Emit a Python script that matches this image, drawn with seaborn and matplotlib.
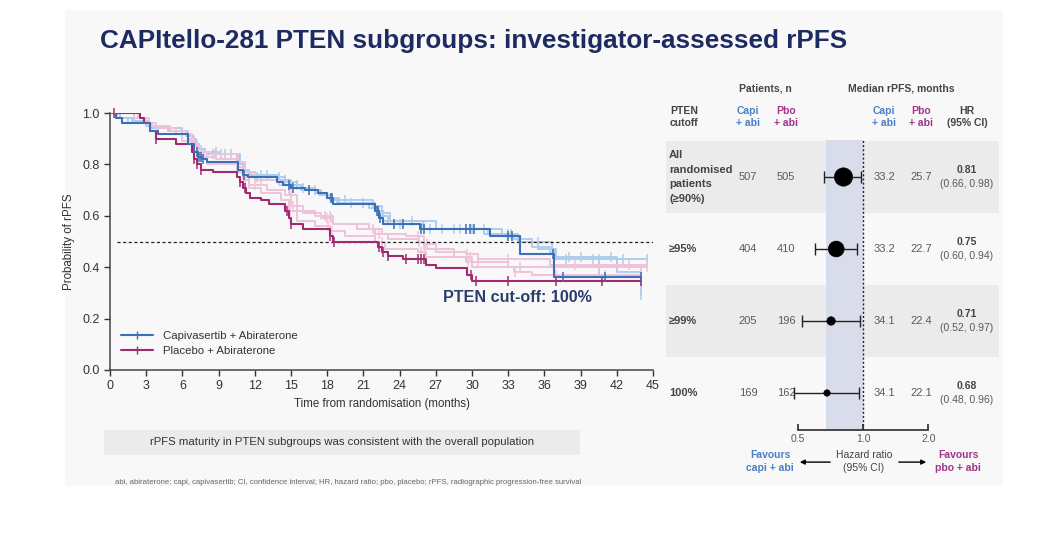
import numpy as np
import matplotlib
matplotlib.use('Agg')
import matplotlib.pyplot as plt
import seaborn as sns
from matplotlib.patches import Rectangle
from matplotlib.lines import Line2D

sns.set_theme(style='ticks')
NARROW = ['Liberation Sans Narrow', 'Liberation Sans', 'DejaVu Sans']
plt.rcParams['font.family'] = NARROW

# ---- KM data ----
# PTEN 100% subgroup (highlighted)
capi_t = [0, 0.5, 1.0, 3.3, 4.0, 6.5, 7.0, 7.3, 7.6, 8.0, 10.6, 11.0, 11.4, 13.8, 14.3, 15.0,
          16.2, 17.2, 18.0, 18.5, 22.0, 22.3, 22.6, 25.7, 31.5, 34.0, 36.8]
capi_s = [1.0, 0.98, 0.96, 0.93, 0.92, 0.88, 0.85, 0.83, 0.82, 0.81, 0.78, 0.76, 0.75, 0.73, 0.72, 0.71,
          0.70, 0.69, 0.67, 0.645, 0.62, 0.59, 0.57, 0.55, 0.52, 0.45, 0.36]
capi_cens = [7.2, 7.4, 7.5, 7.7, 11.1, 14.8, 15.2, 16.5, 18.3, 18.4, 22.1, 22.2, 22.4, 23.5, 24.3, 25.8,
             26.0, 29.5, 29.8, 30.2, 33.0, 33.3, 36.7, 37.5, 41.0, 44.0]

pbo_t = [0, 2.5, 2.8, 3.3, 3.8, 5.5, 6.8, 7.0, 7.2, 7.5, 8.5, 10.5, 10.8, 11.0, 11.3, 11.6, 12.5, 13.2,
         14.5, 14.8, 15.0, 16.0, 18.2, 18.5, 22.2, 22.5, 23.0, 24.3, 26.2, 27.0, 29.6, 30.0]
pbo_s = [1.0, 0.98, 0.96, 0.93, 0.90, 0.88, 0.85, 0.82, 0.80, 0.78, 0.77, 0.75, 0.73, 0.71, 0.69, 0.67, 0.66, 0.645,
         0.62, 0.59, 0.57, 0.55, 0.52, 0.50, 0.48, 0.46, 0.445, 0.43, 0.41, 0.395, 0.37, 0.345]
pbo_cens = [0.3, 3.8, 7.0, 7.2, 7.5, 10.8, 11.2, 14.7, 15.0, 18.2, 18.6, 22.3, 22.6, 23.0, 24.5, 25.5,
            25.8, 26.0, 29.9, 30.3, 33.0, 37.0, 40.8, 44.0]

# other PTEN subgroups (faded)
lb1_t = [0, 0.5, 1.5, 3.0, 4.5, 6.0, 6.8, 7.2, 7.6, 8.2, 10.5, 11.0, 11.5, 13.5, 14.5, 15.5, 17.0, 18.0, 19.0,
         21.5, 22.3, 23.0, 26.0, 31.0, 33.5, 35.0, 36.5, 37.0, 40.0]
lb1_s = [1.0, 0.98, 0.96, 0.95, 0.94, 0.92, 0.89, 0.86, 0.85, 0.84, 0.81, 0.78, 0.76, 0.75, 0.73, 0.71, 0.69, 0.67,
         0.65, 0.63, 0.60, 0.57, 0.55, 0.53, 0.51, 0.48, 0.46, 0.44, 0.43]
lb1_cens = [8.5, 9.5, 12.5, 14.0, 16.0, 20.0, 24.0, 27.5, 30.0, 33.0, 38.0, 40.5, 42.5, 44.5]
lb2_t = [0, 0.8, 2.0, 3.2, 5.0, 6.3, 7.0, 7.4, 7.9, 9.0, 10.8, 11.2, 12.0, 14.0, 15.0, 16.0, 17.5, 18.3,
         21.8, 22.5, 23.2, 27.0, 32.5, 34.0, 36.6, 37.0, 42.0]
lb2_s = [1.0, 0.98, 0.97, 0.95, 0.93, 0.91, 0.88, 0.86, 0.85, 0.84, 0.80, 0.77, 0.76, 0.74, 0.72, 0.70, 0.68, 0.66,
         0.64, 0.61, 0.58, 0.55, 0.52, 0.50, 0.47, 0.44, 0.38]
lb2_cens = [8.8, 10.0, 13.0, 15.5, 19.5, 25.0, 28.5, 31.0, 35.5, 39.0, 41.5, 44.0]
lb3_t = [0, 0.6, 1.8, 3.4, 4.8, 6.5, 7.1, 7.5, 8.0, 10.7, 11.1, 11.7, 13.8, 14.8, 15.8, 17.3, 18.2, 18.8,
         22.0, 22.6, 25.9, 31.3, 33.8, 35.5, 36.8, 40.5, 44.0]
lb3_s = [1.0, 0.98, 0.96, 0.94, 0.93, 0.90, 0.87, 0.85, 0.84, 0.80, 0.77, 0.75, 0.74, 0.72, 0.70, 0.68, 0.66, 0.65,
         0.62, 0.58, 0.55, 0.53, 0.50, 0.47, 0.43, 0.36, 0.29]
lb3_cens = [9.2, 12.2, 14.5, 17.0, 21.0, 26.5, 29.0, 33.2, 37.8, 40.0, 44.0]

lp1_t = [0, 2.3, 3.0, 3.8, 5.5, 6.8, 7.2, 7.8, 8.8, 10.5, 11.0, 11.5, 13.0, 14.5, 15.0, 16.0, 17.5, 18.5,
         20.5, 22.0, 23.0, 25.5, 26.0, 28.5, 30.0, 33.0]
lp1_s = [1.0, 0.98, 0.96, 0.94, 0.92, 0.88, 0.85, 0.83, 0.82, 0.79, 0.75, 0.72, 0.70, 0.68, 0.64, 0.61, 0.59, 0.57,
         0.55, 0.53, 0.51, 0.50, 0.47, 0.44, 0.42, 0.40]
lp1_cens = [8.0, 12.0, 15.2, 18.0, 18.3, 22.3, 25.6, 26.1, 29.8, 30.5, 34.0, 40.5, 44.5]
lp2_t = [0, 2.5, 3.2, 4.0, 6.0, 7.0, 7.5, 8.0, 10.5, 11.0, 11.5, 12.5, 14.2, 14.8, 15.5, 17.0, 18.2, 19.5,
         22.0, 22.8, 25.5, 26.2, 29.5, 30.0, 33.5, 35.0]
lp2_s = [1.0, 0.98, 0.95, 0.92, 0.89, 0.85, 0.82, 0.80, 0.77, 0.74, 0.71, 0.69, 0.66, 0.62, 0.58, 0.56, 0.54, 0.52,
         0.50, 0.47, 0.46, 0.44, 0.42, 0.40, 0.38, 0.37]
lp2_cens = [7.3, 11.2, 14.9, 18.1, 18.4, 22.5, 25.8, 29.7, 33.6, 37.0, 41.0, 44.0]
lp3_t = [0, 2.0, 2.8, 3.5, 5.0, 6.5, 7.0, 7.5, 8.3, 10.6, 11.2, 12.0, 14.0, 14.8, 15.5, 17.0, 18.5, 21.5,
         22.5, 24.5, 26.0, 27.0, 29.5, 30.5, 36.5]
lp3_s = [1.0, 0.98, 0.96, 0.95, 0.93, 0.90, 0.87, 0.85, 0.84, 0.81, 0.77, 0.74, 0.72, 0.68, 0.62, 0.60, 0.57, 0.55,
         0.53, 0.52, 0.49, 0.46, 0.45, 0.43, 0.41]
lp3_cens = [8.6, 12.5, 15.0, 17.8, 18.2, 21.8, 25.5, 26.3, 29.6, 33.0, 38.5, 43.0]

x_ticks = list(range(0, 46, 3))
y_ticks = [0.0, 0.2, 0.4, 0.6, 0.8, 1.0]

# ---- forest / table data ----
row_labels = ['All\nrandomised\npatients\n(\u226590%)', '\u226595%', '\u226599%', '100%']
n_capi = [507, 404, 205, 169]
n_pbo = [505, 410, 196, 162]
med_capi = ['33.2', '33.2', '34.1', '34.1']
med_pbo = ['25.7', '22.7', '22.4', '22.1']
hr = [0.81, 0.75, 0.71, 0.68]
hr_lo = [0.66, 0.60, 0.52, 0.48]
hr_hi = [0.98, 0.94, 0.97, 0.96]
band_lo = 0.67

BLUE = '#3b6fb6'
MAG = '#a2296f'
LBLUE = '#aecdee'
LPINK = '#efc3da'
NAVY = '#1e2b62'
GREY = '#5a5a5a'

fig = plt.figure(figsize=(10.48, 5.54), dpi=100)
fig.patch.set_facecolor('white')
W, H = 1048.0, 554.0


def fx(px):
    return px / W


def fy(py):
    return 1 - py / H


# slide background
fig.patches.append(Rectangle((fx(65), fy(486)), fx(1003) - fx(65), fy(10) - fy(486),
                             transform=fig.transFigure, facecolor='#f8f8f8', edgecolor='none', zorder=-10))

fig.text(fx(100), fy(41), 'CAPItello-281 PTEN subgroups: investigator-assessed rPFS',
         fontsize=18.8, fontweight='bold', color=NAVY, va='center', ha='left')

# ---- KM panel ----
ax = fig.add_axes([fx(110), fy(370), fx(653) - fx(110), fy(113) - fy(370)])
ax.set_facecolor('none')


def surv_at(t, s, times):
    idx = np.searchsorted(np.array(t), np.array(times), side='right') - 1
    return np.array(s)[idx]


def km(t, s, cens, t_end, color, lw, z):
    tt = list(t) + [t_end]
    ss = list(s) + [s[-1]]
    sns.lineplot(x=tt, y=ss, ax=ax, drawstyle='steps-post', color=color, lw=lw,
                 estimator=None, sort=False, zorder=z)
    sns.scatterplot(x=cens, y=surv_at(t, s, cens), ax=ax, marker='|', s=45, color=color,
                    linewidth=1.1, zorder=z, clip_on=False)


km(lb1_t, lb1_s, lb1_cens, 44.5, LBLUE, 1.4, 2)
km(lb2_t, lb2_s, lb2_cens, 44.0, LBLUE, 1.4, 2)
km(lb3_t, lb3_s, lb3_cens, 44.0, LBLUE, 1.4, 2)
km(lp1_t, lp1_s, lp1_cens, 44.5, LPINK, 1.4, 2)
km(lp2_t, lp2_s, lp2_cens, 44.0, LPINK, 1.4, 2)
km(lp3_t, lp3_s, lp3_cens, 44.5, LPINK, 1.4, 2)
km(pbo_t, pbo_s, pbo_cens, 44.0, MAG, 1.5, 4)
km(capi_t, capi_s, capi_cens, 44.0, BLUE, 1.5, 5)

ax.hlines(0.5, 0.6, 45, colors='#222222', linestyles=(0, (2.5, 2)), lw=0.9, zorder=3)
ax.set_xlim(0, 45)
ax.set_ylim(0, 1.0)
ax.set_xticks(x_ticks)
ax.set_yticks(y_ticks)
ax.set_yticklabels([f'{v:.1f}' for v in y_ticks])
ax.tick_params(labelsize=9, colors='#333333', length=4, width=1)
sns.despine(ax=ax)
for sp in ('left', 'bottom'):
    ax.spines[sp].set_color('#444444')
    ax.spines[sp].set_linewidth(1.1)
ax.set_xlabel('Time from randomisation (months)', fontsize=8.3, color='#333333', labelpad=4)
ax.set_ylabel('Probability of rPFS', fontsize=8.3, color='#333333', labelpad=5)
ax.text(33.8, 0.284, 'PTEN cut-off: 100%', fontsize=11.6, fontweight='bold', color='#2a3d6c',
        ha='center', va='center')
handles = [Line2D([], [], color=BLUE, marker='|', lw=1.5, ms=6),
           Line2D([], [], color=MAG, marker='|', lw=1.5, ms=6)]
ax.legend(handles, ['Capivasertib + Abiraterone', 'Placebo + Abiraterone'], loc='lower left',
          bbox_to_anchor=(0.012, 0.035), frameon=False, fontsize=8.2, handlelength=2.8,
          handletextpad=0.9, labelcolor='#333333', borderaxespad=0, labelspacing=0.45)

# bottom message box and footnote
fig.patches.append(Rectangle((fx(104), fy(455)), fx(580) - fx(104), fy(430) - fy(455),
                             transform=fig.transFigure, facecolor='#ebebeb', edgecolor='none', zorder=-5))
fig.text(fx(342), fy(442), 'rPFS maturity in PTEN subgroups was consistent with the overall population',
         fontsize=8.2, color='#333333', ha='center', va='center', zorder=2)
fig.text(fx(115), fy(482), 'abi, abiraterone; capi, capivasertib; CI, confidence interval; HR, hazard ratio; '
         'pbo, placebo; rPFS, radiographic progression-free survival',
         fontsize=5.6, color='#666666', ha='left', va='center')

# ---- table panel ----
TBL = ['Liberation Sans', 'DejaVu Sans']
rows = np.arange(len(hr))
ylo, yhi = 3.514, -0.514
tab = fig.add_axes([fx(660), fy(430), fx(1010) - fx(660), fy(140) - fy(430)])
tab.set_xlim(660, 1010)
tab.set_ylim(ylo, yhi)
tab.axis('off')
for r in rows:
    if r % 2 == 0:
        tab.axhspan(r - 0.5, r + 0.5, xmin=(666 - 660) / 350, xmax=(999 - 660) / 350,
                    color='#ebebeb', lw=0, zorder=0)

tkw = dict(family=TBL, fontsize=7.5, va='center', clip_on=False)
tab.text(765, -1.236, 'Patients, n', ha='center', color='#444444', fontweight='bold', **tkw)
tab.text(901, -1.236, 'Median rPFS, months', ha='center', color='#444444', fontweight='bold', **tkw)
tab.text(670, -0.833, 'PTEN\ncutoff', ha='left', color='#444444', fontweight='bold', linespacing=1.3, **tkw)
for x0 in (748, 884):
    tab.text(x0, -0.833, 'Capi\n+ abi', ha='center', color='#4a80c4', fontweight='bold', linespacing=1.3, **tkw)
for x0 in (786, 921):
    tab.text(x0, -0.833, 'Pbo\n+ abi', ha='center', color='#a0358a', fontweight='bold', linespacing=1.3, **tkw)
tab.text(967, -0.833, 'HR\n(95% CI)', ha='center', color='#444444', fontweight='bold', linespacing=1.3, **tkw)

lkw = dict(tkw, fontsize=8)
for r in rows:
    lines = row_labels[r].split('\n')
    for i, line in enumerate(lines):
        tab.text(669, r + (i - (len(lines) - 1) / 2) * 0.2, line, ha='left', color='#444444',
                 fontweight='bold', **lkw)
    tab.text(748, r, str(n_capi[r]), ha='center', color=GREY, **lkw)
    tab.text(786, r, str(n_pbo[r]), ha='center', color=GREY, **lkw)
    tab.text(884, r, med_capi[r], ha='center', color=GREY, **lkw)
    tab.text(921, r, med_pbo[r], ha='center', color=GREY, **lkw)
    tab.text(967, r - 0.1, f'{hr[r]:.2f}', ha='center', color='#444444', fontweight='bold', **tkw)
    tab.text(967, r + 0.1, f'({hr_lo[r]:.2f}, {hr_hi[r]:.2f})', ha='center', color=GREY, **tkw)

tab.text(770, 3.95, 'Favours\ncapi + abi', ha='center', color='#4a80c4', fontweight='bold', linespacing=1.3, **tkw)
tab.text(864, 3.95, 'Hazard ratio\n(95% CI)', ha='center', color='#444444', linespacing=1.3, **tkw)
tab.text(958, 3.95, 'Favours\npbo + abi', ha='center', color='#a0358a', fontweight='bold', linespacing=1.3, **tkw)
akw = dict(arrowstyle='-|>', color='black', lw=1, mutation_scale=7)
tab.annotate('', xy=(797, 3.96), xytext=(833, 3.96), arrowprops=akw, annotation_clip=False)
tab.annotate('', xy=(929, 3.96), xytext=(896, 3.96), arrowprops=akw, annotation_clip=False)

# ---- forest panel ----
fa = fig.add_axes([fx(780), fy(430), fx(950) - fx(780), fy(140) - fy(430)])
fa.set_facecolor('none')
fa.set_xscale('log')
fa.set_xlim(0.4125, 2.514)
fa.set_ylim(ylo, yhi)
fa.axvspan(band_lo, 1.0, color='#d9dcea', lw=0, zorder=0)
fa.axvline(1.0, color='#222222', ls=(0, (1.5, 1.5)), lw=1, zorder=1)
fa.errorbar(hr, rows, xerr=[np.array(hr) - np.array(hr_lo), np.array(hr_hi) - np.array(hr)],
            fmt='none', ecolor='#222222', elinewidth=1, capsize=4, capthick=1, zorder=2)
sns.scatterplot(x=hr, y=rows, size=np.array(n_capi) + np.array(n_pbo), sizes=(22, 175),
                color='black', edgecolor='black', legend=False, ax=fa, zorder=3)
for sp in ('top', 'right', 'left'):
    fa.spines[sp].set_visible(False)
fa.spines['bottom'].set_bounds(0.5, 2.0)
fa.spines['bottom'].set_color('#333333')
fa.set_xticks([0.5, 1.0, 2.0])
fa.set_xticks([], minor=True)
fa.set_xticklabels(['0.5', '1.0', '2.0'])
fa.set_yticks([])
fa.tick_params(axis='x', direction='in', length=4, labelsize=7.5, colors='#333333', pad=3)
for lab in fa.get_xticklabels():
    lab.set_family(TBL)
    lab.set_color(GREY)
fa.set_xlabel('')
fa.set_ylabel('')

fig.savefig('out.png', dpi=100, facecolor=fig.get_facecolor())
